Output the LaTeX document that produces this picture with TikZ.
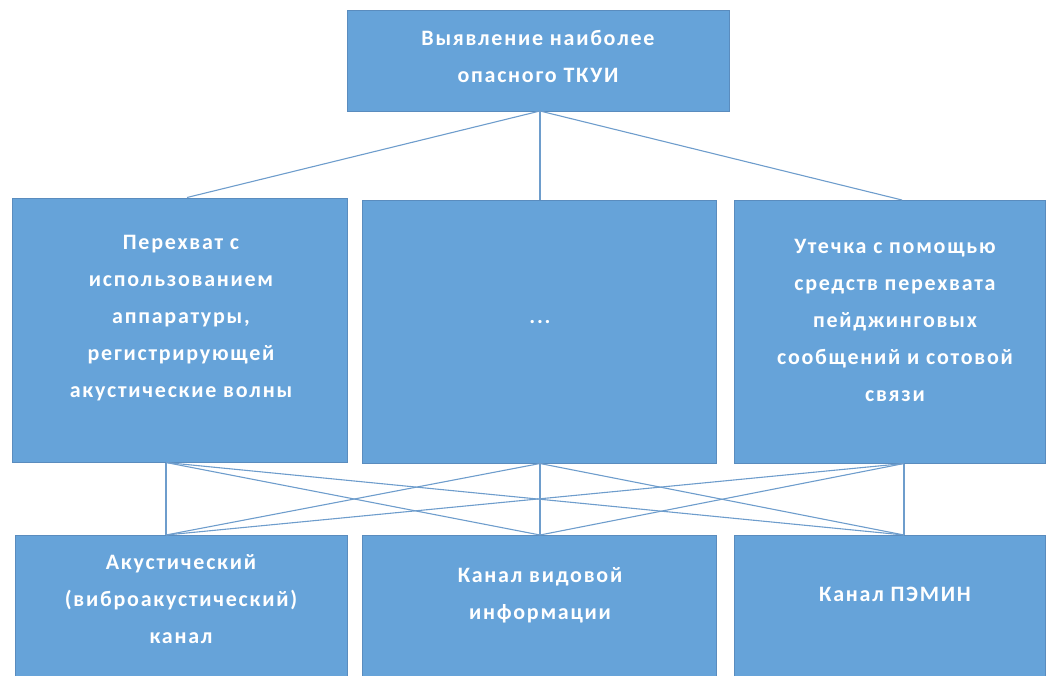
\documentclass[tikz,border=0pt]{standalone}
\usepackage{fontspec}
\setmainfont{Carlito}
\newfontfamily\boxfont[LetterSpace=8]{Carlito}
\definecolor{boxfill}{HTML}{66A3D9}
\definecolor{boxedge}{HTML}{5A8CBE}
\definecolor{linkc}{HTML}{6E9DCC}
\begin{document}
\begin{tikzpicture}[x=1pt,y=-1pt,
  box/.style={draw=boxedge,fill=boxfill,line width=0.8pt,inner sep=0pt},
  lbl/.style={text=white,font=\boxfont\fontsize{22}{37}\selectfont\bfseries,align=center,inner sep=0pt},
  link/.style={draw=linkc,line width=1.1pt}]
\useasboundingbox (0,0) rectangle (1049,675);
\clip (0,0) rectangle (1049,675);
% top
\node[box,minimum width=382pt,minimum height=101pt] (top) at (538,60.5) {};
\node[lbl] (topt) at (538,56) {Выявление наиболее\\опасного ТКУИ};
% middle row
\node[box,minimum width=335pt,minimum height=264pt] (m1) at (179.5,330) {};
\node[box,minimum width=354pt,minimum height=263pt] (m2) at (539,331.5) {};
\node[box,minimum width=311pt,minimum height=263pt] (m3) at (889.5,331.5) {};
\node[lbl] (m1t) at (181,318) {Перехват с\\использованием\\аппаратуры,\\регистрирующей\\акустические волны};
\node[lbl] (m2t) at (540,322) {...};
\node[lbl] (m3t) at (895,320) {Утечка с помощью\\средств перехвата\\пейджинговых\\сообщений и сотовой\\связи};
% bottom row
\node[box,minimum width=332pt,minimum height=160pt] (b1) at (181,615) {};
\node[box,minimum width=354pt,minimum height=160pt] (b2) at (539,615) {};
\node[box,minimum width=311pt,minimum height=160pt] (b3) at (889.5,615) {};
\node[lbl] (b1t) at (181,599) {Акустический\\(виброакустический)\\канал};
\node[lbl] (b2t) at (540,595) {Канал видовой\\информации};
\node[lbl] (b3t) at (895,594) {Канал ПЭМИН};
% attach points
\coordinate (tp) at (540,111);
\coordinate (m1n) at (187,197.5);
\coordinate (m2n) at (540,200);
\coordinate (m3n) at (902,200);
\coordinate (m1s) at (166,462.5);
\coordinate (m2s) at (540,463.5);
\coordinate (m3s) at (904,463.5);
\coordinate (b1n) at (166,535);
\coordinate (b2n) at (540,535);
\coordinate (b3n) at (904,535);
\draw[link] (tp) -- (m1n);
\draw[link] (tp) -- (m2n);
\draw[link] (tp) -- (m3n);
\foreach \u in {m1s,m2s,m3s}{
  \foreach \v in {b1n,b2n,b3n}{
    \draw[link] (\u) -- (\v);
  }
}
\end{tikzpicture}
\end{document}
